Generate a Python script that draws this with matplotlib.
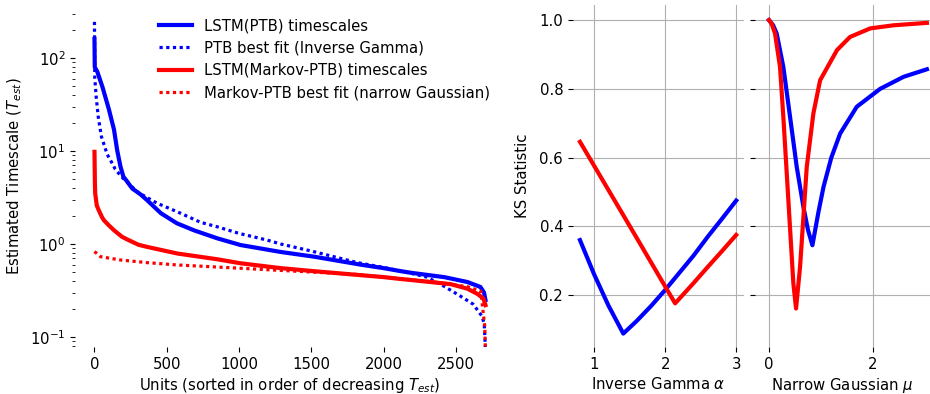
import numpy as np
import matplotlib
matplotlib.use("Agg")
from matplotlib import pyplot as plt

# ---- left panel: sorted timescales (unit index, T_est) ----
ptb_u = [0, 2, 20, 55, 100, 135, 157, 180, 200, 226, 260, 320, 360, 460, 570, 690, 850,
         1010, 1290, 1520, 1840, 2000, 2120, 2190, 2420, 2580, 2670, 2695, 2705]
ptb_t = [160, 80, 71, 49, 28, 17, 10.2, 6.8, 5.3, 4.7, 3.97, 3.4, 3.0, 2.14, 1.67, 1.4, 1.15,
         0.975, 0.82, 0.73, 0.6, 0.55, 0.51, 0.49, 0.44, 0.39, 0.345, 0.30, 0.25]

ptb_fit_u = [0, 2, 12, 26, 48, 88, 120, 143, 182, 203, 300, 434, 573, 734, 850, 1000, 1196,
             1288, 1500, 1820, 2000, 2200, 2300, 2420, 2530, 2620, 2680, 2696, 2703, 2706]
ptb_fit_t = [245, 61, 38, 23.4, 14.3, 9.2, 7.5, 6.4, 5.4, 5.0, 3.6, 2.74, 2.22, 1.71, 1.53, 1.3, 1.1,
             1.0, 0.84, 0.63, 0.56, 0.48, 0.44, 0.35, 0.276, 0.225, 0.168, 0.14, 0.085, 0.06]

mk_u = [0, 3, 5, 16, 30, 51, 64, 97, 134, 189, 226, 305, 365, 573, 850, 1011, 1288, 1519,
        1820, 2003, 2119, 2188, 2465, 2581, 2650, 2690, 2705]
mk_t = [9.8, 4.5, 3.5, 2.6, 2.3, 1.96, 1.81, 1.6, 1.41, 1.2, 1.12, 0.98, 0.93, 0.79, 0.685, 0.62,
        0.55, 0.51, 0.465, 0.44, 0.42, 0.41, 0.37, 0.33, 0.29, 0.26, 0.22]

mk_fit_u = [0, 42, 180, 365, 573, 803, 1288, 1820, 2350, 2581, 2673, 2688, 2700, 2706]
mk_fit_t = [0.83, 0.73, 0.673, 0.63, 0.595, 0.57, 0.52, 0.47, 0.39, 0.347, 0.31, 0.19, 0.13, 0.06]

# ---- middle panel: KS statistic vs inverse gamma alpha ----
ig_alpha_ptb = [0.8, 1.0, 1.2, 1.41, 1.6, 1.8, 2.0, 2.2, 2.4, 2.6, 2.8, 3.0]
ig_ks_ptb = [0.36, 0.26, 0.17, 0.088, 0.125, 0.168, 0.215, 0.265, 0.315, 0.37, 0.422, 0.475]
ig_alpha_mk = [0.8, 1.2, 1.6, 2.0, 2.14, 2.4, 2.6, 2.8, 3.0]
ig_ks_mk = [0.646, 0.506, 0.366, 0.225, 0.176, 0.235, 0.282, 0.328, 0.375]

# ---- right panel: KS statistic vs narrow gaussian mu ----
ng_mu_ptb = [0, 0.08, 0.148, 0.276, 0.405, 0.534, 0.662, 0.75, 0.836, 0.95, 1.05, 1.2, 1.37,
             1.69, 2.14, 2.59, 3.04]
ng_ks_ptb = [1.0, 0.985, 0.961, 0.864, 0.719, 0.573, 0.457, 0.39, 0.345, 0.44, 0.515, 0.6, 0.67,
             0.748, 0.80, 0.835, 0.857]
ng_mu_mk = [0, 0.05, 0.116, 0.212, 0.276, 0.373, 0.469, 0.521, 0.598, 0.727, 0.855, 0.984, 1.31,
            1.56, 1.95, 2.40, 3.04]
ng_ks_mk = [1.0, 0.99, 0.961, 0.864, 0.719, 0.476, 0.234, 0.161, 0.282, 0.573, 0.729, 0.825, 0.913,
            0.951, 0.976, 0.985, 0.992]

plt.rcParams["font.size"] = 10.7
dots = (0, (1, 1.1))

fig = plt.figure(figsize=(9.3, 3.94), dpi=100)
ax0 = fig.add_axes([0.0806, 0.1193, 0.4624, 0.868])
ax1 = fig.add_axes([0.616, 0.1193, 0.184, 0.868])
ax2 = fig.add_axes([0.8118, 0.1193, 0.1882, 0.868], sharey=ax1)

ax0.plot(ptb_u, ptb_t, color="b", ls="-", lw=3, label="LSTM(PTB) timescales")
ax0.plot(ptb_fit_u, ptb_fit_t, color="b", ls=dots, lw=2.3, label="PTB best fit (Inverse Gamma)")
ax0.plot(mk_u, mk_t, color="r", ls="-", lw=3, label="LSTM(Markov-PTB) timescales")
ax0.plot(mk_fit_u, mk_fit_t, color="r", ls=dots, lw=2.3, label="Markov-PTB best fit (narrow Gaussian)")
ax0.set_yscale("log")
ax0.set_ylim(0.078, 372)
ax0.set_xlim(-135, 2840)
ax0.set_xticks([0, 500, 1000, 1500, 2000, 2500])
ax0.set_xlabel("Units (sorted in order of decreasing $T_{est}$)", labelpad=3)
ax0.set_ylabel("Estimated Timescale ($T_{est}$)")
ax0.legend(loc="upper right", bbox_to_anchor=(0.986, 0.988), frameon=False,
           handlelength=2.2, borderaxespad=0.2, labelspacing=0.5)

ax1.plot(ig_alpha_ptb, ig_ks_ptb, "b-", lw=3)
ax1.plot(ig_alpha_mk, ig_ks_mk, "r-", lw=3)
ax1.set_xlim(0.70, 3.11)
ax1.set_ylim(0.049, 1.044)
ax1.set_xticks([1, 2, 3])
ax1.set_yticks([0.2, 0.4, 0.6, 0.8, 1.0])
ax1.set_xlabel("Inverse Gamma $\\alpha$", labelpad=3)
ax1.set_ylabel("KS Statistic", labelpad=7)
ax1.grid(True)

ax2.plot(ng_mu_ptb, ng_ks_ptb, "b-", lw=3)
ax2.plot(ng_mu_mk, ng_ks_mk, "r-", lw=3)
ax2.set_xlim(-0.27, 3.1)
ax2.set_xticks([0, 2])
ax2.set_xlabel("Narrow Gaussian $\\mu$", labelpad=3)
ax2.tick_params(axis="y", labelleft=False)
ax2.grid(True)

for ax in [ax0, ax1, ax2]:
    for s in ax.spines.values():
        s.set_visible(False)

fig.savefig("out.png", dpi=100)
